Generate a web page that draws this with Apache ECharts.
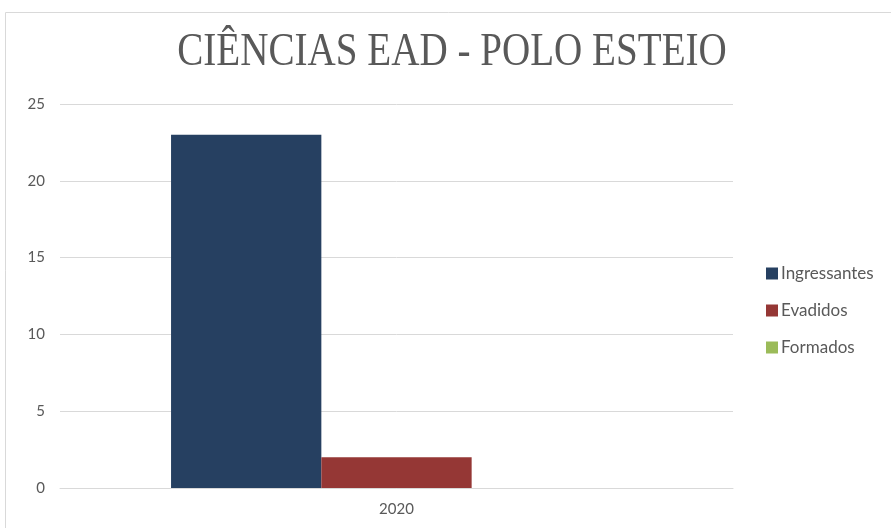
<!DOCTYPE html>
<html>
<head>
<meta charset="utf-8">
<script src="https://cdn.jsdelivr.net/npm/echarts@6/dist/echarts.min.js"></script>
<style>html,body{margin:0;padding:0;background:#fff}#c{width:891px;height:528px}</style>
</head>
<body>
<div id="c"></div>
<script>
const titleText = 'CIÊNCIAS EAD - POLO ESTEIO';
const categories = ['2020'];
const seriesNames = ['Ingressantes', 'Evadidos', 'Formados'];
const ingressantes = [23];
const evadidos = [2];
const formados = [0];
const colors = ['#264061', '#953735', '#9bbb59'];

const chart = echarts.init(document.getElementById('c'));
const labelFont = 'Lato, "Open Sans", sans-serif';
chart.setOption({
  animation: false,
  color: colors,
  graphic: [
    { type: 'rect', shape: { x: 5.5, y: 12.5, width: 900, height: 530 }, style: { fill: 'none', stroke: '#d9d9d9', lineWidth: 1 }, silent: true },
    { type: 'text', x: 452, y: 53, originX: 0, originY: 0, scaleX: 0.85,
      style: { text: titleText, font: '46px "Liberation Serif", serif', fill: '#595959', align: 'center', verticalAlign: 'middle' } }
  ],
  grid: { left: 60, right: 158, top: 104, bottom: 40 },
  legend: {
    orient: 'vertical', left: 761, top: 260, itemWidth: 12, itemHeight: 12, itemGap: 20,
    icon: 'rect',
    textStyle: { color: '#595959', fontSize: 17, fontFamily: labelFont, padding: [0, 0, 0, -2] },
    data: seriesNames
  },
  xAxis: {
    type: 'category', data: categories,
    axisLine: { show: true, lineStyle: { color: '#d9d9d9' } },
    axisTick: { show: false },
    axisLabel: { color: '#595959', fontSize: 15, fontFamily: labelFont, margin: 14 }
  },
  yAxis: {
    type: 'value', min: 0, max: 25, interval: 5,
    axisLine: { show: false }, axisTick: { show: false },
    splitLine: { lineStyle: { color: '#d9d9d9' } },
    axisLabel: { color: '#595959', fontSize: 15, fontFamily: labelFont, margin: 15 }
  },
  series: [
    { name: seriesNames[0], type: 'bar', data: ingressantes, barGap: '0%', barCategoryGap: '33%' },
    { name: seriesNames[1], type: 'bar', data: evadidos, barGap: '0%', barCategoryGap: '33%' },
    { name: seriesNames[2], type: 'bar', data: formados, barGap: '0%', barCategoryGap: '33%' }
  ]
});
</script>
</body>
</html>
